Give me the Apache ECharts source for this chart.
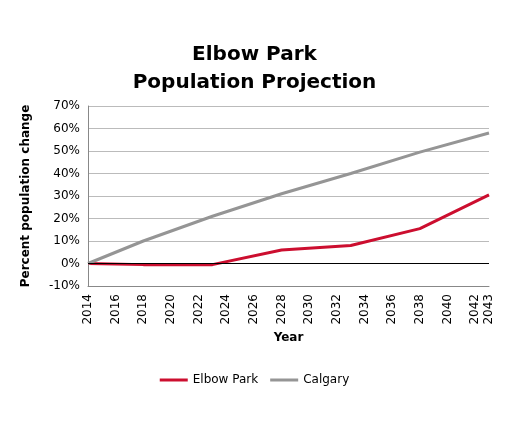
<!DOCTYPE html>
<html>
<head>
<meta charset="utf-8">
<script src="https://cdn.jsdelivr.net/npm/echarts@6/dist/echarts.min.js"></script>
<style>
  body { margin: 0; background: #fff; }
  #main { width: 509px; height: 425px; }
</style>
</head>
<body>
<div id="main"></div>
<script>
var years = [2014, 2018, 2023, 2028, 2033, 2038, 2043];
var elbowPark = [0, -0.5, -0.5, 6, 8, 15.5, 30.5];
var calgary = [0, 10, 21, 31, 40, 49.5, 58];

function pairs(vals) {
    return years.map(function (y, i) { return [y, vals[i]]; });
}

var myChart = echarts.init(document.getElementById('main'));
var font = 'DejaVu Sans';
option = {
    animation: false,
    textStyle: { fontFamily: font },
    title: {
        text: 'Elbow Park\nPopulation Projection',
        left: 'center',
        top: 36,
        textStyle: { fontSize: 20, fontWeight: 'bold', color: '#000', lineHeight: 28, fontFamily: font }
    },
    legend: {
        bottom: 34,
        itemWidth: 28,
        itemHeight: 3,
        itemGap: 12,
        icon: 'rect',
        textStyle: { fontSize: 12, color: '#000' },
        data: ['Elbow Park', 'Calgary']
    },
    grid: { left: 88, right: 20, top: 106, bottom: 139 },
    xAxis: {
        type: 'value',
        min: 2014,
        max: 2043,
        interval: 2,
        name: 'Year',
        nameLocation: 'middle',
        nameGap: 46,
        nameTextStyle: { fontWeight: 'bold', fontSize: 12, color: '#000' },
        axisLine: { onZero: false, lineStyle: { color: '#888' } },
        axisTick: { show: false },
        splitLine: { show: false },
        axisLabel: { rotate: 90, color: '#000', fontSize: 12, formatter: function (v) { return String(v); } }
    },
    yAxis: {
        type: 'value',
        min: -10,
        max: 70,
        interval: 10,
        name: 'Percent population change',
        nameLocation: 'middle',
        nameGap: 56,
        nameTextStyle: { fontWeight: 'bold', fontSize: 12, color: '#000' },
        axisLine: { show: true, lineStyle: { color: '#888' } },
        axisTick: { show: false },
        splitLine: { lineStyle: { color: '#bbb' } },
        axisLabel: { color: '#000', fontSize: 12, formatter: '{value}%' }
    },
    series: [
        {
            name: 'Elbow Park',
            type: 'line',
            data: pairs(elbowPark),
            showSymbol: false,
            lineStyle: { color: '#cc0e2f', width: 3 },
            itemStyle: { color: '#cc0e2f' },
            z: 3
        },
        {
            name: 'Calgary',
            type: 'line',
            data: pairs(calgary),
            showSymbol: false,
            lineStyle: { color: '#959595', width: 3 },
            itemStyle: { color: '#959595' },
            markLine: {
                silent: true,
                symbol: 'none',
                label: { show: false },
                lineStyle: { color: '#000', width: 1, type: 'solid' },
                data: [{ yAxis: 0 }]
            }
        }
    ]
};
myChart.setOption(option);
</script>
</body>
</html>
